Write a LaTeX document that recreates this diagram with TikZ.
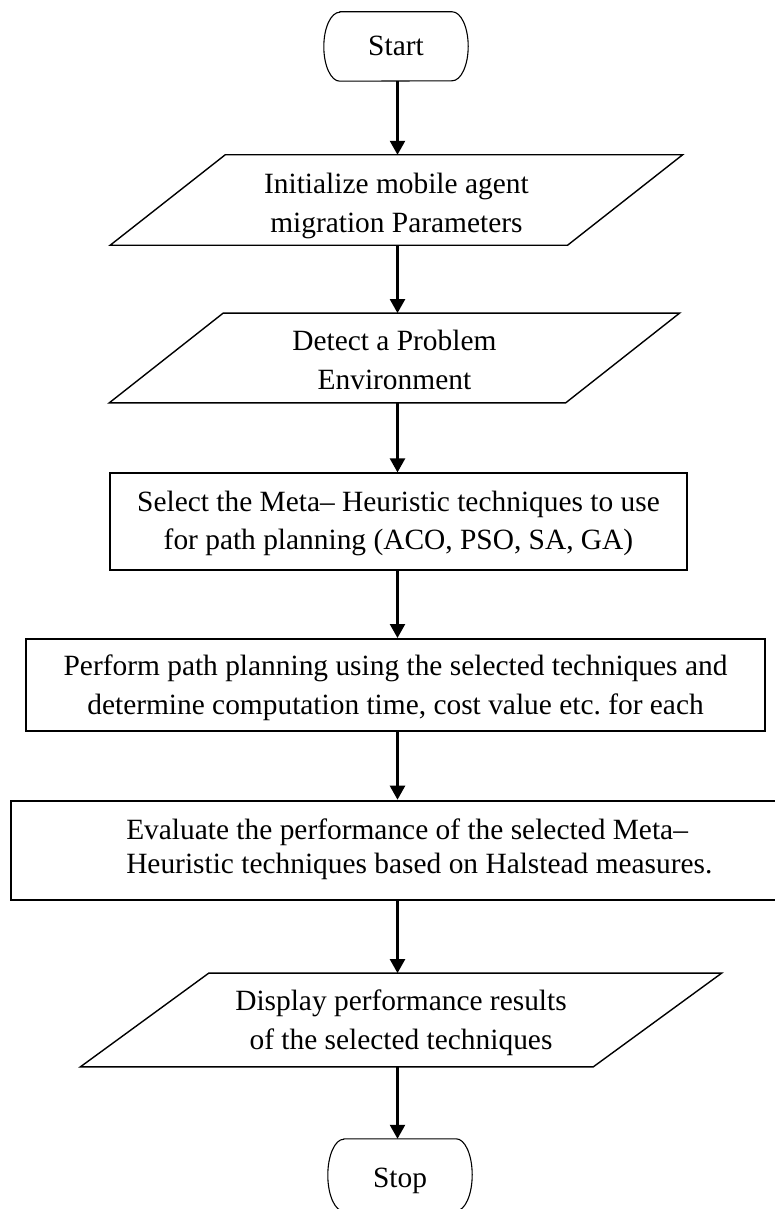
\documentclass[tikz,border=0pt]{standalone}
\usepackage{fontspec}
\setmainfont{Liberation Serif}
\frenchspacing
\usetikzlibrary{arrows.meta,calc}
\begin{document}
\begin{tikzpicture}[x=1pt,y=-1pt,
  txt/.style={font=\fontsize{29.4}{39}\selectfont, align=center, inner sep=0pt, text height=20pt},
  term/.style={txt, minimum width=144pt},
  termline/.style={line width=1.1pt},
  parabox/.style={txt, text depth=0pt},
  paraline/.style={line width=1.4pt, line join=miter},
  procbox/.style={txt, draw, line width=2pt, text depth=0pt},
  arr/.style={line width=2.4pt, -{Triangle[length=14pt,width=15pt]}}
]
\useasboundingbox (0,0) rectangle (774,1209);
\coordinate (ax) at (397.5,0);

% Start terminal
\node[term, minimum height=69pt, text depth=1pt] (start) at (396,46.5) {Start};
\draw[termline] ([xshift=16pt]start.north west) -- ([xshift=-16pt]start.north east)
  arc[start angle=90, end angle=-90, x radius=16pt, y radius=34.5pt]
  -- ([xshift=16pt]start.south west)
  arc[start angle=270, end angle=90, x radius=16pt, y radius=34.5pt] -- cycle;

% Parallelogram 1
\node[parabox, minimum width=457pt, minimum height=90pt, text height=64pt] (p1) at (396.4,200)
  {Initialize mobile agent\\migration Parameters};
\draw[paraline] ([xshift=57.5pt]p1.north west) -- ([xshift=57.5pt]p1.north east)
  -- ([xshift=-57.5pt]p1.south east) -- ([xshift=-57.5pt]p1.south west) -- cycle;

% Parallelogram 2
\node[parabox, minimum width=456pt, minimum height=89.4pt, text height=62pt] (p2) at (394.4,358)
  {Detect a Problem\\Environment};
\draw[paraline] ([xshift=57pt]p2.north west) -- ([xshift=57pt]p2.north east)
  -- ([xshift=-57pt]p2.south east) -- ([xshift=-57pt]p2.south west) -- cycle;

% Process 3
\node[procbox, minimum width=577pt, minimum height=97pt, text height=54.2pt,
  font=\fontsize{29.4}{38}\selectfont] (r3) at (398.5,521.9)
  {Select the Meta– Heuristic techniques to use\\for path planning (ACO, PSO, SA, GA)};

% Process 4
\node[procbox, minimum width=739pt, minimum height=92pt, text height=58pt] (r4) at (395.5,685)
  {Perform path planning using the selected techniques and\\determine computation time, cost value etc. for each};

% Process 5
\node[procbox, minimum width=817.3pt, minimum height=99.3pt, text height=45.3pt, align=left,
  font=\fontsize{29.4}{34}\selectfont] (r5) at (419.35,850.35)
  {Evaluate the performance of the selected Meta–\\Heuristic techniques based on Halstead measures.};

% Parallelogram 6
\node[parabox, minimum width=512.5pt, minimum height=93.4pt, text height=58pt] (p6) at (401,1020)
  {Display performance results\\of the selected techniques};
\draw[paraline] ([xshift=64.25pt]p6.north west) -- ([xshift=64.25pt]p6.north east)
  -- ([xshift=-64.25pt]p6.south east) -- ([xshift=-64.25pt]p6.south west) -- cycle;

% Stop terminal
\node[term, minimum height=72pt, text height=24pt, text depth=0pt] (stop) at (400,1175) {Stop};
\draw[termline] ([xshift=16pt]stop.north west) -- ([xshift=-16pt]stop.north east)
  arc[start angle=90, end angle=-90, x radius=16pt, y radius=36pt]
  -- ([xshift=16pt]stop.south west)
  arc[start angle=270, end angle=90, x radius=16pt, y radius=36pt] -- cycle;

% Connectors
\draw[arr] (ax |- start.south) -- (ax |- p1.north);
\draw[arr] (ax |- p1.south) -- (ax |- p2.north);
\draw[arr] (ax |- p2.south) -- (ax |- r3.north);
\draw[arr] (ax |- r3.south) -- (ax |- r4.north);
\draw[arr] (ax |- r4.south) -- (ax |- r5.north);
\draw[arr] (ax |- r5.south) -- (ax |- p6.north);
\draw[arr] (ax |- p6.south) -- (ax |- stop.north);
\end{tikzpicture}
\end{document}
